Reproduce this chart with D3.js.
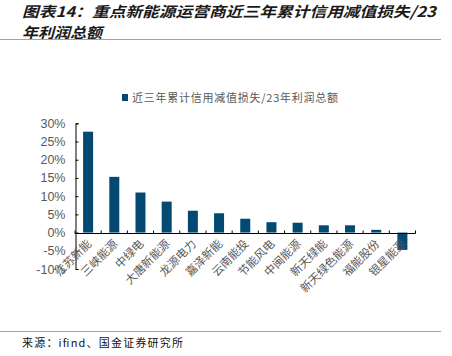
<!DOCTYPE html>
<html><head><meta charset="utf-8">
<script src="https://cdn.jsdelivr.net/npm/d3@7"></script>
<style>body{margin:0;background:#fff}svg{display:block}</style>
</head><body>
<script>
const categories = ["江苏新能","三峡能源","中绿电","大唐新能源","龙源电力","嘉泽新能","云南能投","节能风电","中闽能源","新天绿能","新天绿色能源","福能股份","银星能源"];
const values = [27.7, 15.3, 11.0, 8.5, 6.0, 5.3, 3.8, 2.85, 2.7, 2.0, 2.0, 0.75, -4.75];
const yTicks = [-10, -5, 0, 5, 10, 15, 20, 25, 30];
const seriesName = "近三年累计信用减值损失/23年利润总额";
const titleLine1 = "图表14：重点新能源运营商近三年累计信用减值损失/23";
const titleLine2 = "年利润总额";
const sourceText = "来源：ifind、国金证券研究所";

const W = 452, H = 356;
const barColor = "#024A72";
const grey = "#595959";
const cjk = "'Noto Sans CJK SC', sans-serif";
const svg = d3.select("body").append("svg").attr("width", W).attr("height", H);

// title
svg.append("text").attr("x", 22).attr("y", 16.5).text(titleLine1)
  .attr("font-family", cjk).attr("font-size", 14.5).attr("font-weight", "bold").attr("font-style", "italic")
  .attr("fill", "#1a1a1a").attr("textLength", 414).attr("lengthAdjust", "spacingAndGlyphs");
svg.append("text").attr("x", 22).attr("y", 38).text(titleLine2)
  .attr("font-family", cjk).attr("font-size", 14.5).attr("font-weight", "bold").attr("font-style", "italic")
  .attr("fill", "#1a1a1a").attr("textLength", 80).attr("lengthAdjust", "spacingAndGlyphs");
svg.append("line").attr("x1", 0).attr("x2", 441).attr("y1", 39.5).attr("y2", 39.5).attr("stroke", "#8fa7b8").attr("stroke-width", 1);
svg.append("line").attr("x1", 0).attr("x2", 441).attr("y1", 331.5).attr("y2", 331.5).attr("stroke", "#8fa7b8").attr("stroke-width", 1);
svg.append("text").attr("x", 22).attr("y", 347).text(sourceText)
  .attr("font-family", cjk).attr("font-size", 11).attr("fill", "#111")
  .attr("textLength", 161).attr("lengthAdjust", "spacing");

// legend
svg.append("rect").attr("x", 122).attr("y", 94).attr("width", 6).attr("height", 7).attr("fill", barColor);
svg.append("text").attr("x", 132).attr("y", 101.5).text(seriesName)
  .attr("font-family", cjk).attr("font-size", 11).attr("fill", grey)
  .attr("textLength", 206).attr("lengthAdjust", "spacing");

// scales
const xb = d3.scaleBand().domain(categories).range([75, 415.5]);
const y = d3.scaleLinear().domain([-10, 30]).range([269, 123.3]);

// bars
svg.append("g").selectAll("rect").data(values).join("rect")
  .attr("x", (d, i) => xb(categories[i]) + xb.bandwidth() / 2 - 5)
  .attr("width", 10)
  .attr("y", d => y(Math.max(0, d)))
  .attr("height", d => Math.abs(y(d) - y(0)))
  .attr("fill", barColor);

// y axis
const yAxis = d3.axisLeft(y).tickValues(yTicks).tickSize(-3).tickPadding(10).tickFormat(d => d + "%");
const gy = svg.append("g").attr("transform", "translate(75.5,0)").call(yAxis);
gy.select(".domain").attr("stroke", "#000");
gy.selectAll(".tick line").attr("stroke", "#000");
gy.selectAll(".tick text").attr("font-family", "'Liberation Sans', Arial, sans-serif").attr("font-size", 12.5).attr("fill", grey);

// x axis at zero
const gx = svg.append("g").attr("transform", `translate(0,${Math.round(y(0)) + 0.5})`);
gx.append("line").attr("x1", 75).attr("x2", 415.5).attr("stroke", "#000");
const bounds = categories.map(c => xb(c) + xb.bandwidth()).concat([75]);
gx.selectAll("line.t").data(bounds).join("line").attr("class", "t")
  .attr("x1", d => d).attr("x2", d => d).attr("y1", 0).attr("y2", -3).attr("stroke", "#000");

// category labels
svg.append("g").selectAll("text").data(categories).join("text")
  .attr("transform", c => `translate(${xb(c) + xb.bandwidth() / 2 + 4},${y(0) + 12}) rotate(-45)`)
  .attr("text-anchor", "end")
  .attr("font-family", cjk).attr("font-size", 11.5).attr("fill", grey)
  .text(c => c);
</script>
</body></html>
